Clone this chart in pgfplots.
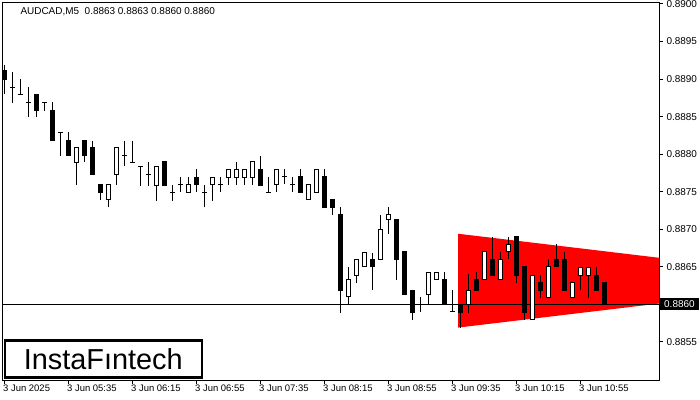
\documentclass[border=0pt]{standalone}
\usepackage{pgfplots}
\usepackage{pgfplotstable}
\pgfplotsset{compat=1.18}
\usepackage{fontspec}
\setmainfont{Liberation Sans}

\pgfplotstableread{
i O H L C
0 0.88911 0.88919 0.88880 0.88900
1 0.88889 0.88909 0.88868 0.88889
2 0.88880 0.88900 0.88880 0.88880
3 0.88869 0.88889 0.88849 0.88869
4 0.88880 0.88880 0.88849 0.88858
5 0.88869 0.88869 0.88858 0.88869
6 0.88858 0.88869 0.88818 0.88818
7 0.88829 0.88829 0.88798 0.88829
8 0.88818 0.88829 0.88798 0.88798
9 0.88789 0.88809 0.88759 0.88809
10 0.88818 0.88818 0.88789 0.88798
11 0.88809 0.88818 0.88773 0.88773
12 0.88759 0.88759 0.88739 0.88749
13 0.88739 0.88759 0.88729 0.88759
14 0.88773 0.88809 0.88759 0.88809
15 0.88798 0.88818 0.88784 0.88798
16 0.88789 0.88818 0.88789 0.88789
17 0.88784 0.88784 0.88758 0.88784
18 0.88773 0.88790 0.88758 0.88773
19 0.88758 0.88784 0.88738 0.88784
20 0.88790 0.88790 0.88758 0.88758
21 0.88749 0.88759 0.88738 0.88749
22 0.88759 0.88769 0.88749 0.88759
23 0.88749 0.88769 0.88749 0.88759
24 0.88769 0.88780 0.88749 0.88759
25 0.88749 0.88759 0.88729 0.88749
26 0.88759 0.88769 0.88738 0.88769
27 0.88759 0.88769 0.88749 0.88759
28 0.88769 0.88780 0.88759 0.88780
29 0.88769 0.88790 0.88759 0.88780
30 0.88769 0.88780 0.88759 0.88780
31 0.88769 0.88790 0.88759 0.88790
32 0.88780 0.88798 0.88758 0.88758
33 0.88749 0.88769 0.88749 0.88749
34 0.88760 0.88780 0.88749 0.88780
35 0.88770 0.88780 0.88760 0.88770
36 0.88760 0.88770 0.88749 0.88760
37 0.88770 0.88780 0.88749 0.88749
38 0.88739 0.88760 0.88739 0.88760
39 0.88749 0.88780 0.88749 0.88780
40 0.88770 0.88780 0.88729 0.88729
41 0.88739 0.88739 0.88719 0.88729
42 0.88719 0.88729 0.88589 0.88619
43 0.88610 0.88650 0.88600 0.88633
44 0.88639 0.88660 0.88629 0.88660
45 0.88650 0.88669 0.88650 0.88669
46 0.88660 0.88669 0.88619 0.88650
47 0.88660 0.88719 0.88660 0.88700
48 0.88713 0.88729 0.88693 0.88719
49 0.88713 0.88713 0.88633 0.88660
50 0.88670 0.88670 0.88613 0.88613
51 0.88619 0.88619 0.88579 0.88589
52 0.88600 0.88610 0.88590 0.88600
53 0.88613 0.88643 0.88600 0.88643
54 0.88633 0.88643 0.88633 0.88643
55 0.88633 0.88643 0.88600 0.88600
56 0.88590 0.88619 0.88590 0.88590
57 0.88600 0.88600 0.88569 0.88589
58 0.88600 0.88640 0.88589 0.88619
59 0.88633 0.88643 0.88619 0.88619
60 0.88633 0.88670 0.88633 0.88670
61 0.88660 0.88690 0.88639 0.88639
62 0.88633 0.88670 0.88633 0.88660
63 0.88670 0.88689 0.88660 0.88680
64 0.88690 0.88690 0.88629 0.88639
65 0.88650 0.88650 0.88579 0.88589
66 0.88580 0.88639 0.88580 0.88639
67 0.88629 0.88639 0.88609 0.88619
68 0.88609 0.88660 0.88609 0.88650
69 0.88660 0.88680 0.88650 0.88650
70 0.88660 0.88670 0.88619 0.88619
71 0.88609 0.88629 0.88609 0.88629
72 0.88639 0.88649 0.88619 0.88649
73 0.88639 0.88649 0.88609 0.88649
74 0.88639 0.88650 0.88619 0.88619
75 0.88629 0.88629 0.88600 0.88600
}\candles

\begin{document}
\begin{tikzpicture}
\begin{axis}[
  scale only axis, width=657bp, height=377bp,
  xmin=-0.25, xmax=81.875, ymin=0.884992, ymax=0.890013,
  axis line style={black, line width=1bp},
  tick style={black, line width=1bp},
  major tick length=4bp, tick align=outside,
  xtick pos=bottom, ytick pos=right, yticklabel pos=right,
  xtick={0,8,...,72},
  xticklabels={3 Jun 2025,3 Jun 05:35,3 Jun 06:15,3 Jun 06:55,3 Jun 07:35,3 Jun 08:15,3 Jun 08:55,3 Jun 09:35,3 Jun 10:15,3 Jun 10:55},
  xticklabel style={anchor=north west, inner sep=0pt, xshift=-1bp, yshift=-1bp, font=\fontsize{9.5}{11}\selectfont},
  ytick={0.8855,0.8865,0.8870,0.8875,0.8880,0.8885,0.8890,0.8895,0.8900},
  scaled y ticks=false,
  yticklabel style={font=\fontsize{10}{12}\selectfont, /pgf/number format/fixed, /pgf/number format/fixed zerofill, /pgf/number format/precision=4, /pgf/number format/assume math mode=true},
  extra y ticks={0.8860},
  extra y tick style={yticklabel style={fill=black, text=white, inner xsep=4bp, inner ysep=2.5bp, xshift=-3bp}},
  clip=true,
]
% red pattern
\addplot[fill=red, draw=none, forget plot] coordinates {(56.75,0.88694) (81.875,0.88662) (81.875,0.88601) (56.75,0.88569)} -- cycle;
% price line
\addplot[black, line width=1bp, forget plot] coordinates {(-0.25,0.8860) (81.875,0.8860)};
% wicks
\addplot[draw=none, mark=none, forget plot,
  error bars/.cd, y dir=plus, y explicit, error mark=none,
  error bar style={draw=black, line width=1bp}]
  table[x=i, y=L, y error plus expr={\thisrow{H}-\thisrow{L}}] {\candles};
% bodies (outer, black)
\addplot[draw=none, mark=none, forget plot,
  error bars/.cd, y dir=plus, y explicit, error mark=none,
  error bar style={draw=black, line width=5bp}]
  table[x=i, y expr={min(\thisrow{O},\thisrow{C})-0.0000067}, y error plus expr={abs(\thisrow{C}-\thisrow{O})+0.0000133}] {\candles};
% bullish bodies (white interior)
\addplot[draw=none, mark=none, forget plot,
  error bars/.cd, y dir=plus, y explicit, error mark=none,
  error bar style={draw=white, line width=3bp}]
  table[x=i, y expr={\thisrow{O}+0.0000067}, y error plus expr={max(\thisrow{C}-\thisrow{O}-0.0000133,0)}] {\candles};

\node[anchor=west, xshift=15bp, yshift=-9bp, font=\fontsize{10}{12}\selectfont] at (rel axis cs:0,1) {AUDCAD,M5\ \ 0.8863 0.8863 0.8860 0.8860};
\node[draw=black, line width=2.5bp, fill=white, anchor=south west, minimum width=197bp, minimum height=37bp, inner sep=0pt, xshift=1.5bp, yshift=1.5bp, font=\fontsize{29}{30}\selectfont] at (rel axis cs:0,0) {InstaFıntech};
\end{axis}
\pgfresetboundingbox
\path[use as bounding box] (-2bp,-20bp) rectangle (698bp,380bp);
\end{tikzpicture}
\end{document}
